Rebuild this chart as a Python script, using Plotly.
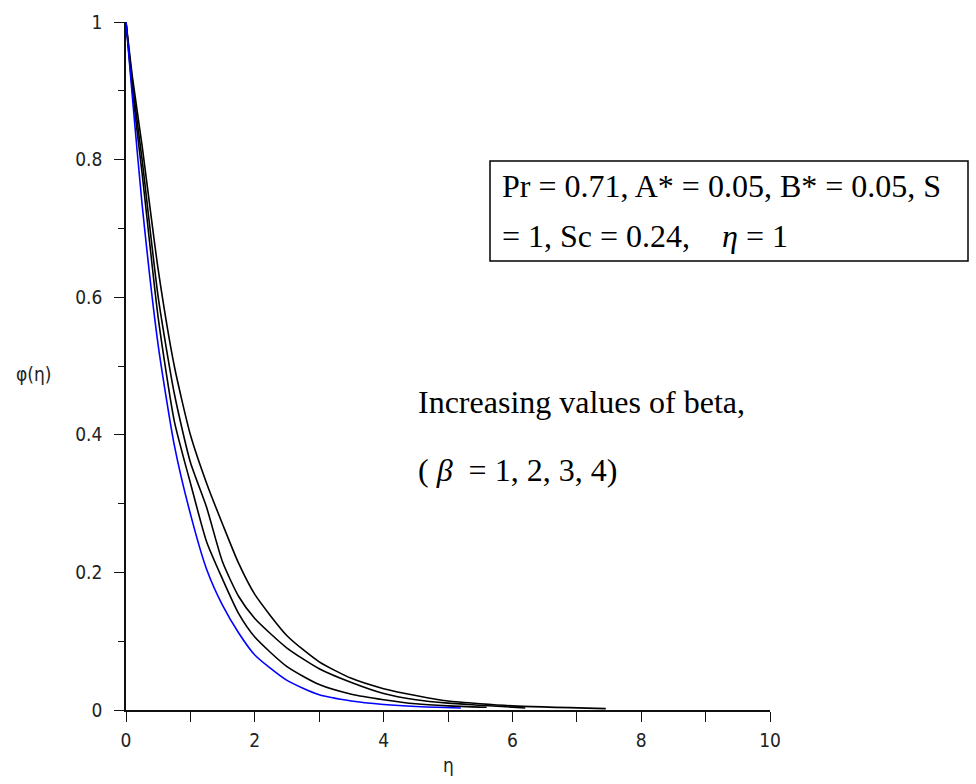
import plotly.graph_objects as go

# eta grid per curve and phi values
eta_beta1 = [0, 0.1, 0.25, 0.5, 0.75, 1.0, 1.25, 1.5, 1.75, 2.0, 2.5, 3.0, 3.5, 4.0, 4.5, 5.2]
phi_beta1 = [1.0, 0.89, 0.735, 0.53, 0.385, 0.285, 0.205, 0.152, 0.112, 0.08, 0.043, 0.022, 0.013, 0.008, 0.005, 0.003]

eta_beta2 = [0, 0.1, 0.25, 0.5, 0.75, 1.0, 1.25, 1.5, 1.75, 2.0, 2.5, 3.0, 3.5, 4.0, 4.5, 5.0, 5.6]
phi_beta2 = [1.0, 0.90, 0.78, 0.57, 0.42, 0.33, 0.245, 0.19, 0.14, 0.106, 0.063, 0.037, 0.023, 0.015, 0.009, 0.006, 0.004]

eta_beta3 = [0, 0.1, 0.25, 0.5, 0.75, 1.0, 1.25, 1.5, 1.75, 2.0, 2.5, 3.0, 3.5, 4.0, 4.5, 5.0, 5.5, 6.2]
phi_beta3 = [1.0, 0.91, 0.80, 0.60, 0.46, 0.36, 0.295, 0.215, 0.165, 0.133, 0.09, 0.06, 0.04, 0.024, 0.015, 0.01, 0.007, 0.003]

eta_beta4 = [0, 0.1, 0.25, 0.5, 0.75, 1.0, 1.25, 1.5, 1.75, 2.0, 2.5, 3.0, 3.5, 4.0, 4.5, 5.0, 5.5, 6.0, 7.45]
phi_beta4 = [1.0, 0.92, 0.82, 0.64, 0.50, 0.40, 0.33, 0.27, 0.213, 0.168, 0.108, 0.07, 0.046, 0.031, 0.021, 0.013, 0.009, 0.006, 0.002]

x_tickvals = [0, 2, 4, 6, 8, 10]
x_ticktext = ["0", "2", "4", "6", "8", "10"]
y_tickvals = [0, 0.2, 0.4, 0.6, 0.8, 1.0]
y_ticktext = ["0", "0.2", "0.4", "0.6", "0.8", "1"]

tick_font = dict(family="Liberation Sans Narrow, DejaVu Sans Condensed, Liberation Sans, sans-serif",
                 size=19, color="#222222")
serif = "Liberation Serif, Times New Roman, serif"

fig = go.Figure()
series = [
    (eta_beta4, phi_beta4, "black", "β = 4"),
    (eta_beta3, phi_beta3, "black", "β = 3"),
    (eta_beta2, phi_beta2, "black", "β = 2"),
    (eta_beta1, phi_beta1, "#0000ff", "β = 1"),
]
for ex, ph, col, nm in series:
    fig.add_trace(go.Scatter(x=ex, y=ph, mode="lines", name=nm,
                             line=dict(color=col, width=1.6, shape="spline", smoothing=0.6)))

fig.update_layout(
    width=976, height=784,
    margin=dict(l=126, r=206, t=22, b=74),
    paper_bgcolor="white", plot_bgcolor="white",
    showlegend=False,
    xaxis=dict(range=[0, 10], tickvals=x_tickvals, ticktext=x_ticktext,
               showgrid=False, zeroline=False, showline=True, linecolor="#111", linewidth=1.5,
               ticks="outside", ticklen=10, tickwidth=1.2, tickcolor="#111",
               minor=dict(ticks="outside", dtick=1, ticklen=10, tickwidth=1.2, tickcolor="#111"),
               tickfont=tick_font, ticklabelstandoff=2, fixedrange=True),
    yaxis=dict(range=[0, 1], tickvals=y_tickvals, ticktext=y_ticktext,
               showgrid=False, zeroline=False, showline=True, linecolor="#111", linewidth=1.5,
               ticks="outside", ticklen=10, tickwidth=1.2, tickcolor="#111",
               minor=dict(ticks="outside", dtick=0.1, ticklen=6, tickwidth=1.2, tickcolor="#111"),
               tickfont=tick_font, ticklabelstandoff=8, fixedrange=True),
)

def px_x(p):
    return (p - 126) / 644.0

def px_y(p):
    return (710 - p) / 688.0

big = dict(family=serif, size=32, color="black")
annotations = [
    dict(text="φ(η)", x=px_x(33), y=px_y(374), xref="paper", yref="paper",
         showarrow=False, font=tick_font, xanchor="center", yanchor="middle"),
    dict(text="η", x=px_x(448), y=px_y(765), xref="paper", yref="paper",
         showarrow=False, font=tick_font, xanchor="center", yanchor="middle"),
    dict(text="Pr = 0.71, A* = 0.05, B* = 0.05, S",
         x=px_x(500), y=px_y(186), xref="paper", yref="paper", showarrow=False,
         xanchor="left", yanchor="middle", font=big),
    dict(text="= 1, Sc = 0.24,\u00a0\u00a0\u00a0\u00a0<i>η</i> = 1",
         x=px_x(500), y=px_y(236), xref="paper", yref="paper", showarrow=False,
         xanchor="left", yanchor="middle", font=big),
    dict(text="Increasing values of beta,", x=px_x(416), y=px_y(402), xref="paper", yref="paper",
         showarrow=False, xanchor="left", yanchor="middle", font=big),
    dict(text="(\u00a0<i>β</i>\u00a0\u00a0= 1, 2, 3, 4)", x=px_x(416), y=px_y(470), xref="paper", yref="paper",
         showarrow=False, xanchor="left", yanchor="middle", font=big),
]
fig.update_layout(annotations=annotations)
fig.add_shape(type="rect", xref="paper", yref="paper",
              x0=px_x(490), x1=px_x(968), y0=px_y(261), y1=px_y(161),
              line=dict(color="black", width=1.5), fillcolor="rgba(0,0,0,0)", layer="above")

fig.write_html("out.html")
